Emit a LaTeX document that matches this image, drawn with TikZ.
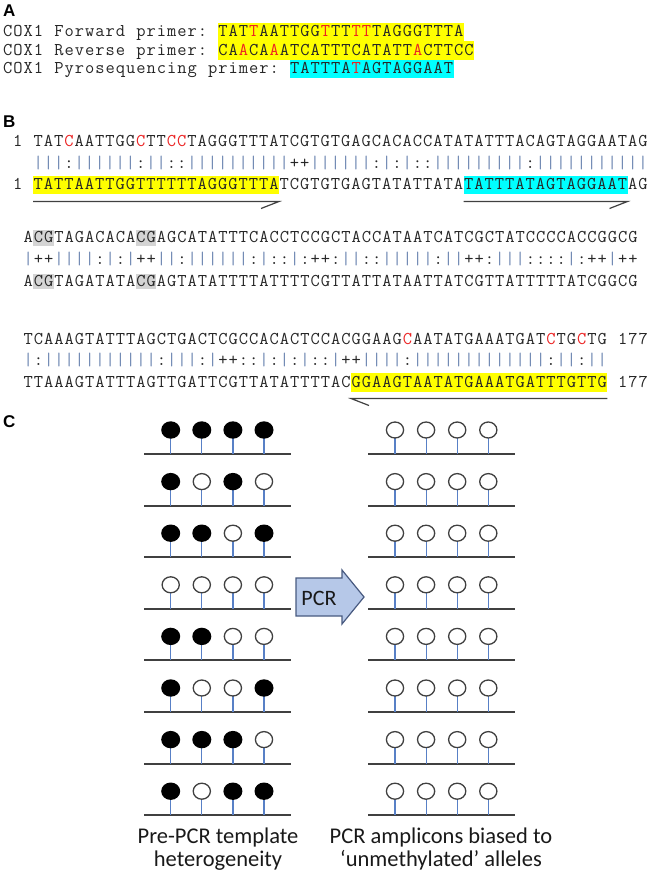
\documentclass[tikz,border=0pt]{standalone}
\usepackage{fontspec}
\setmainfont{Carlito}
\setmonofont{Latin Modern Mono}
\newfontfamily\labfont{Liberation Sans}
\usepackage{xcolor}

\definecolor{seqred}{RGB}{235,35,35}
\definecolor{hlyellow}{RGB}{255,255,0}
\definecolor{hlcyan}{RGB}{0,255,255}
\definecolor{hlgray}{RGB}{212,212,212}
\definecolor{barcol}{RGB}{110,135,178}
\definecolor{stemblue}{RGB}{88,128,198}
\definecolor{dnaline}{RGB}{64,64,64}
\definecolor{pcrfill}{RGB}{182,200,232}
\definecolor{pcrdraw}{RGB}{72,90,128}

\def\cw{10.25}
\newcommand\seqfont{\ttfamily\fontsize{18}{21}\selectfont}
\newcommand\seqcell[1]{\hbox to \cw pt{\hss#1\hss}}
% sequence cells: lower case = red base, '_' = blank, '|' = blue-grey bar
\def\dna#1{\dstep#1\relax}
\def\dstep#1{\ifx\relax#1\else\dchar#1\expandafter\dstep\fi}
\def\dchar#1{%
  \ifx_#1\seqcell{}%
  \else\ifx|#1\seqcell{\textcolor{barcol}{|}}%
  \else\ifnum`#1>96 \seqcell{\textcolor{seqred}{\uppercase{#1}}}%
  \else\seqcell{#1}\fi\fi\fi}
% plain cells for the labels
\def\cells#1{\cstep#1\relax}
\def\cstep#1{\ifx\relax#1\else\ifx_#1\seqcell{}\else\seqcell{#1}\fi\expandafter\cstep\fi}

\begin{document}
\begin{tikzpicture}[x=1pt, y=-1pt,
  seq/.style={font=\seqfont, anchor=base west, inner sep=0pt, text=black!85},
  hl/.style={seq, fill=#1, text height=14pt, text depth=4.5pt},
  panel/.style={font=\labfont\bfseries\fontsize{17}{20}\selectfont, anchor=base west, inner sep=0pt},
  primer/.style={draw=dnaline, line width=1.2pt},
  strand/.style={draw=dnaline, line width=2pt},
  stem/.style={draw=stemblue, line width=1.2pt},
  metc/.style={fill=black},
  unmetc/.style={draw=dnaline, fill=white, line width=1.3pt},
  caption/.style={font=\fontsize{22.5}{23.5}\selectfont, align=center, inner sep=0pt, text=black!90}]

\useasboundingbox (0,0) rectangle (655,885);

\def\ax{2.5}
\def\bxa{12.5}
\def\bxb{23}

% ---- A: primers
\node[panel] (la) at (3,17) {A};
\node[seq] (fwdlab) at (\ax,37)   {\cells{COX1_Forward_primer:}};
\node[seq] (revlab) at (\ax,55.5) {\cells{COX1_Reverse_primer:}};
\node[seq] (pyrlab) at (\ax,74)   {\cells{COX1_Pyrosequencing_primer:}};
\node[hl=hlyellow] (fwdseq) at ({\ax+21*\cw},37)   {\dna{TATtAATTGGtTTttTAGGGTTTA}};
\node[hl=hlyellow] (revseq) at ({\ax+21*\cw},55.5) {\dna{CAaCAaATCATTTCATATTaCTTCC}};
\node[hl=hlcyan]   (pyrseq) at ({\ax+28*\cw},74)   {\dna{TATTTAtAGTAGGAAT}};

% ---- B: alignment
\node[panel] (lb) at (3,128) {B};

% block 1
\fill[hlyellow] ({\bxa+2*\cw},176) rectangle ({\bxa+26*\cw},194.5);
\fill[hlcyan]   ({\bxa+44*\cw},176) rectangle ({\bxa+60*\cw},194.5);
\node[seq] (b1top) at (\bxa,147)
  {\dna{1_TATcAATTGGcTTccTAGGGTTTATCGTGTGAGCACACCATATATTTACAGTAGGAATAG}};
\node[seq] (b1mid) at (\bxa,168.5)
  {\dna{__|||:||||||:||::||||||||||++||||||:|:|::|||||||||:|||||||||||}};
\node[seq] (b1bot) at (\bxa,190)
  {\dna{1_TATTAATTGGTTTTTTAGGGTTTATCGTGTGAGTATATTATATATTTATAGTAGGAATAG}};
\coordinate (fwdS) at ({\bxa+2*\cw},201.5);
\coordinate (fwdE) at ({\bxa+26*\cw},201.5);
\coordinate (pyrS) at ({\bxa+44*\cw},201.5);
\coordinate (pyrE) at ({\bxa+60*\cw},201.5);
\draw[primer] (fwdS) -- (fwdE) -- ++(-18,7);
\draw[primer] (pyrS) -- (pyrE) -- ++(-18,7);

% block 2
\foreach \yb in {243,286}{
  \fill[hlgray] ({\bxb+1*\cw},\yb-12.5) rectangle ({\bxb+3*\cw},\yb+3);
  \fill[hlgray] ({\bxb+11*\cw},\yb-12.5) rectangle ({\bxb+13*\cw},\yb+3);
}
\node[seq] (b2top) at (\bxb,243)
  {\dna{ACGTAGACACACGAGCATATTTCACCTCCGCTACCATAATCATCGCTATCCCCACCGGCG}};
\node[seq] (b2mid) at (\bxb,264.5)
  {\dna{|++||||:|:|++||:||||||:|::|:++:||::|||||:||++:|||::::|:++|++}};
\node[seq] (b2bot) at (\bxb,286)
  {\dna{ACGTAGATATACGAGTATATTTTATTTTCGTTATTATAATTATCGTTATTTTTATCGGCG}};

% block 3
\fill[hlyellow] ({\bxb+32*\cw},373) rectangle ({\bxb+57*\cw},391.5);
\node[seq] (b3top) at (\bxb,344)
  {\dna{TCAAAGTATTTAGCTGACTCGCCACACTCCACGGAAGcAATATGAAATGATcTGcTG_177}};
\node[seq] (b3mid) at (\bxb,365.5)
  {\dna{|:|||||||||||:|||:|++::|:|:|::|++||||:|||||||||||||:||:||}};
\node[seq] (b3bot) at (\bxb,387)
  {\dna{TTAAAGTATTTAGTTGATTCGTTATATTTTACGGAAGTAATATGAAATGATTTGTTG_177}};
\coordinate (revS) at ({\bxb+57*\cw},398.5);
\coordinate (revE) at ({\bxb+32*\cw},398.5);
\draw[primer] (revS) -- (revE) -- ++(18,7);

% ---- C: lollipops
\node[panel] (lc) at (3,427) {C};
\def\rowstep{51.6}
\def\cpgstep{31.1}
\foreach \pat [count=\row from 0] in
  {{1,1,1,1},{1,0,1,0},{1,1,0,1},{0,0,0,0},{1,1,0,0},{1,0,0,1},{1,1,1,0},{1,0,1,1}}{
  \pgfmathsetmacro\yc{430+\row*\rowstep}
  \pgfmathsetmacro\yl{\yc+24}
  \draw[strand] (144,\yl) -- (291,\yl);
  \draw[strand] (368,\yl) -- (515,\yl);
  \foreach \m [count=\k from 0] in \pat{
    \pgfmathsetmacro\xl{170.7+\k*\cpgstep}
    \pgfmathsetmacro\xr{395+\k*\cpgstep}
    \draw[stem] (\xl,\yc+8) -- (\xl,\yl);
    \draw[stem] (\xr,\yc+8) -- (\xr,\yl);
    \ifnum\m=1\relax
      \fill[metc] (\xl,\yc) ellipse [x radius=9.5pt, y radius=8.7pt];
    \else
      \draw[unmetc] (\xl,\yc) ellipse [x radius=8.6pt, y radius=8pt];
    \fi
    \draw[unmetc] (\xr,\yc) ellipse [x radius=8.6pt, y radius=8pt];
  }
}

% PCR block arrow
\draw[fill=pcrfill, draw=pcrdraw, line width=1.2pt]
  (296,578) -- (342,578) -- (342,570) -- (364,597) -- (342,624)
  -- (342,616) -- (296,616) -- cycle;
\node[font=\fontsize{22}{24}\selectfont, inner sep=0pt, text=black!90] (pcr) at (319,598) {PCR};

\node[caption] (pretxt) at (218,849) {Pre-PCR template\\heterogeneity};
\node[caption] (posttxt) at (441,849) {PCR amplicons biased to\\‘unmethylated’ alleles};

\end{tikzpicture}
\end{document}
